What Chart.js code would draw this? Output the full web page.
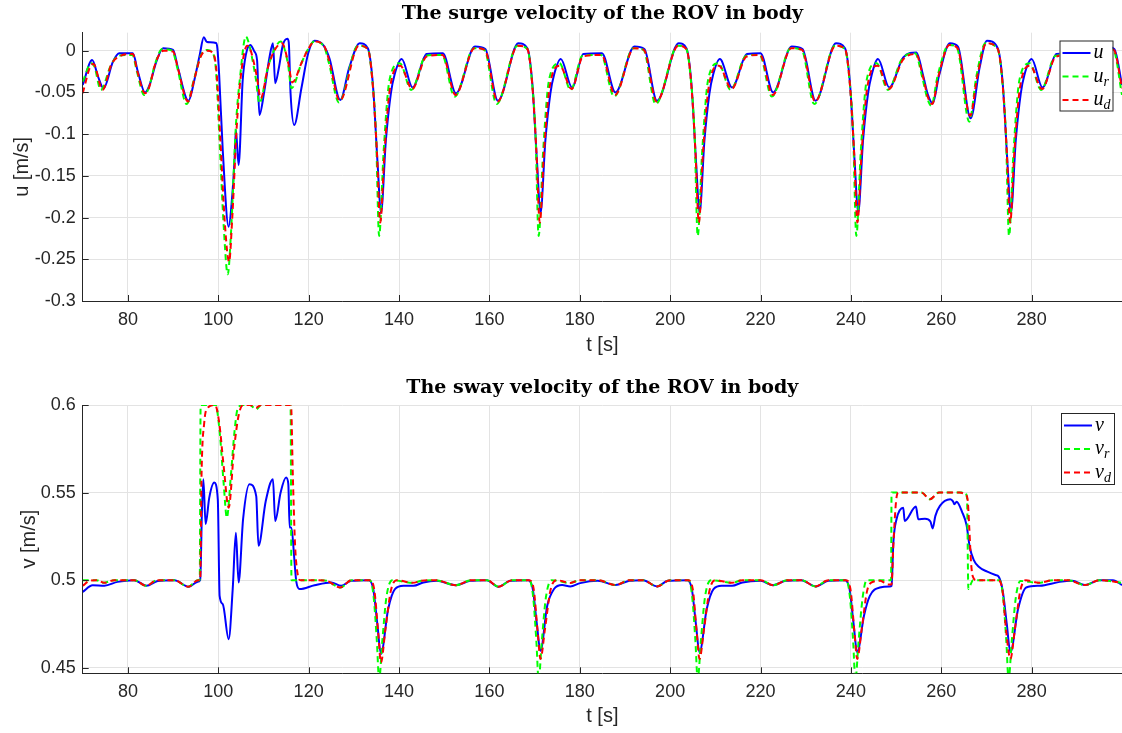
<!DOCTYPE html>
<html>
<head>
<meta charset="utf-8">
<script src="https://cdn.jsdelivr.net/npm/chart.js@4.4.1/dist/chart.umd.min.js"></script>
<style>
  html, body { margin: 0; padding: 0; background: #fff; }
  #wrap { position: relative; width: 1122px; height: 733px; }
  canvas { position: absolute; left: 0; }
</style>
</head>
<body>
<div id="wrap">
  <canvas id="surge" width="1122" height="366" style="top:0"></canvas>
  <canvas id="sway" width="1122" height="367" style="top:366px"></canvas>
</div>
<script>
// axis ticks
const tTicks = [80, 100, 120, 140, 160, 180, 200, 220, 240, 260, 280];
const uTicks = [-0.3, -0.25, -0.2, -0.15, -0.1, -0.05, 0];
const vTicks = [0.45, 0.5, 0.55, 0.6];

// surge: measured u
const tU = [70.0, 72.1, 73.4, 74.6, 76.7, 78.1, 81.1, 82.2, 83.8, 84.8, 86.3, 87.8, 90.0, 91.1, 93.4, 94.8, 95.9, 96.8, 97.5, 99.5,
  99.8, 100.2, 101.0, 102.3, 103.0, 103.6, 103.9, 104.5, 105.4, 106.1, 107.1, 108.0, 108.6, 109.1, 110.2, 111.3, 112.1, 112.6, 113.4, 114.3,
  115.3, 115.6, 116.0, 116.8, 118.4, 119.9, 121.3, 123.2, 124.6, 127.0, 129.0, 131.3, 133.1, 134.2, 135.3, 136.0, 137.1, 138.2, 139.0, 140.6,
  143.0, 146.1, 149.7, 152.6, 156.8, 159.1, 161.9, 166.4, 168.4, 169.5, 170.6, 171.3, 172.4, 173.5, 174.3, 175.8, 178.3, 180.8, 184.9, 187.9,
  192.1, 194.3, 197.1, 201.9, 203.6, 204.7, 205.8, 206.5, 207.6, 208.7, 209.5, 211.0, 213.7, 217.0, 220.0, 222.8, 226.9, 229.3, 232.2, 236.7,
  238.7, 239.8, 240.9, 241.6, 242.7, 243.8, 244.6, 246.0, 248.5, 251.6, 254.5, 256.0, 257.0, 258.1, 259.5, 261.9, 263.7, 266.5, 268.5, 270.1,
  272.5, 273.6, 274.7, 275.4, 276.5, 277.6, 278.4, 280.0, 282.4, 285.5, 289.5, 292.0, 296.2, 298.3, 300.0];
const uMeas = [-0.041, -0.011, -0.031, -0.045, -0.013, -0.003, -0.003, -0.025, -0.050, -0.041, -0.013, 0.003, 0.001, -0.021, -0.060, -0.033, -0.005, 0.016, 0.0104, 0.0092,
  0.003, -0.029, -0.120, -0.211, -0.180, -0.131, -0.095, -0.137, -0.036, -0.005, 0.007, -0.001, -0.012, -0.077, -0.048, -0.009, 0.009, -0.039, -0.021, 0.007,
  0.0144, 0.010, -0.051, -0.089, -0.045, -0.003, 0.012, 0.007, -0.009, -0.059, -0.020, 0.009, 0.003, -0.039, -0.139, -0.195, -0.107, -0.051, -0.029, -0.010,
  -0.044, -0.004, -0.003, -0.051, 0.005, 0.002, -0.060, 0.009, 0.003, -0.039, -0.139, -0.195, -0.107, -0.051, -0.029, -0.010, -0.044, -0.004, -0.003, -0.050,
  0.005, 0.002, -0.060, 0.009, 0.003, -0.039, -0.139, -0.195, -0.107, -0.051, -0.029, -0.010, -0.044, -0.004, -0.003, -0.050, 0.005, 0.002, -0.060, 0.009,
  0.003, -0.039, -0.139, -0.195, -0.107, -0.051, -0.029, -0.010, -0.044, -0.008, -0.002, -0.030, -0.052, -0.063, -0.030, 0.009, 0.005, -0.081, -0.020, 0.012,
  0.003, -0.039, -0.139, -0.195, -0.107, -0.051, -0.029, -0.010, -0.044, -0.004, -0.003, -0.050, 0.005, 0.002, -0.041];

// surge: reference u_r
const tUr = [70.0, 71.9, 72.6, 74.0, 76.2, 77.9, 81.0, 82.0, 83.6, 84.6, 86.0, 87.6, 89.8, 91.0, 93.0, 94.6, 96.2, 97.6, 98.7, 99.5,
  100.3, 101.2, 102.1, 102.8, 103.9, 104.8, 106.1, 106.6, 108.3, 109.1, 110.9, 112.3, 113.8, 115.4, 116.2, 118.4, 119.9, 121.2, 123.4, 124.5,
  126.7, 130.9, 133.1, 134.0, 134.9, 135.6, 136.6, 137.9, 140.2, 142.7, 146.0, 149.5, 152.3, 156.6, 158.9, 161.6, 166.2, 168.4, 169.3, 170.2,
  170.9, 171.9, 173.2, 175.5, 178.0, 180.6, 184.7, 187.6, 191.9, 194.1, 196.8, 201.7, 203.6, 204.5, 205.4, 206.1, 207.1, 208.4, 210.7, 213.4,
  216.8, 219.8, 222.5, 226.7, 229.1, 231.9, 236.5, 238.7, 239.6, 240.5, 241.2, 242.2, 243.5, 245.7, 248.2, 251.3, 254.2, 255.8, 256.8, 257.8,
  259.2, 261.7, 263.5, 266.2, 267.8, 269.8, 272.5, 273.4, 274.3, 275.0, 276.0, 277.3, 279.6, 282.1, 285.3, 289.3, 291.7, 296.0, 298.1, 300.0];
const uRef = [-0.037, -0.015, -0.019, -0.047, -0.018, -0.006, -0.005, -0.025, -0.053, -0.045, -0.016, 0.002, 0.000, -0.022, -0.064, -0.035, -0.005, 0.001, -0.002, -0.024,
  -0.110, -0.210, -0.268, -0.220, -0.090, -0.033, 0.017, 0.012, -0.033, -0.063, -0.022, 0.000, 0.011, -0.015, -0.045, -0.015, 0.002, 0.011, 0.005, -0.015,
  -0.062, 0.006, 0.002, -0.030, -0.099, -0.222, -0.120, -0.035, -0.015, -0.047, -0.006, -0.005, -0.055, 0.003, 0.001, -0.064, 0.006, 0.002, -0.030, -0.099,
  -0.222, -0.120, -0.035, -0.015, -0.047, -0.006, -0.005, -0.055, 0.003, 0.001, -0.064, 0.006, 0.002, -0.030, -0.099, -0.222, -0.120, -0.035, -0.015, -0.047,
  -0.006, -0.005, -0.055, 0.003, 0.001, -0.064, 0.006, 0.002, -0.030, -0.099, -0.222, -0.120, -0.035, -0.015, -0.047, -0.010, -0.003, -0.032, -0.055, -0.066,
  -0.030, 0.007, 0.003, -0.085, -0.030, 0.009, 0.002, -0.030, -0.099, -0.222, -0.120, -0.035, -0.015, -0.047, -0.006, -0.005, -0.055, 0.003, 0.001, -0.053];

// surge: desired u_d
const tUd = [70.0, 71.9, 72.4, 74.4, 76.3, 78.0, 81.1, 82.1, 83.8, 84.7, 86.1, 87.9, 90.0, 91.1, 93.3, 94.7, 96.2, 97.6, 98.7, 99.6,
  100.5, 101.5, 102.4, 103.1, 104.1, 105.0, 106.4, 107.0, 108.5, 109.4, 111.0, 112.4, 114.1, 115.5, 116.4, 118.4, 119.9, 121.3, 123.5, 124.6,
  126.9, 131.1, 133.1, 134.1, 135.1, 135.85, 136.8, 138.0, 140.3, 142.9, 146.1, 149.6, 152.5, 156.7, 159.0, 161.8, 166.3, 168.4, 169.4, 170.4,
  171.15, 172.1, 173.3, 175.6, 178.2, 180.7, 184.8, 187.8, 192.0, 194.2, 197.0, 201.8, 203.6, 204.6, 205.6, 206.35, 207.3, 208.5, 210.8, 213.6,
  216.9, 219.9, 222.7, 226.8, 229.2, 232.1, 236.6, 238.7, 239.7, 240.7, 241.45, 242.4, 243.6, 245.9, 248.4, 251.5, 254.4, 256.0, 257.0, 258.0,
  259.4, 261.8, 263.6, 266.4, 268.0, 270.0, 272.5, 273.5, 274.5, 275.25, 276.2, 277.4, 279.7, 282.3, 285.4, 289.4, 291.9, 296.1, 298.2, 300.0];
const uDes = [-0.051, -0.017, -0.016, -0.047, -0.017, -0.007, -0.004, -0.025, -0.051, -0.044, -0.015, 0.000, -0.001, -0.022, -0.061, -0.034, -0.006, 0.000, -0.002, -0.024,
  -0.110, -0.210, -0.253, -0.200, -0.090, -0.030, 0.006, 0.003, -0.030, -0.057, -0.020, 0.000, 0.009, -0.015, -0.038, -0.015, 0.002, 0.011, 0.005, -0.013,
  -0.060, 0.006, 0.002, -0.035, -0.120, -0.206, -0.120, -0.045, -0.018, -0.046, -0.007, -0.005, -0.053, 0.003, 0.001, -0.061, 0.006, 0.002, -0.035, -0.120,
  -0.206, -0.120, -0.045, -0.018, -0.046, -0.007, -0.005, -0.053, 0.003, 0.001, -0.061, 0.006, 0.002, -0.035, -0.120, -0.206, -0.120, -0.045, -0.018, -0.046,
  -0.007, -0.005, -0.053, 0.003, 0.001, -0.061, 0.006, 0.002, -0.035, -0.120, -0.206, -0.120, -0.045, -0.018, -0.046, -0.011, -0.004, -0.032, -0.055, -0.064,
  -0.030, 0.007, 0.003, -0.078, -0.030, 0.009, 0.002, -0.035, -0.120, -0.206, -0.120, -0.045, -0.018, -0.046, -0.007, -0.005, -0.053, 0.003, 0.001, -0.045];

// sway: measured v
const tV = [70.0, 72.2, 74.8, 77.7, 81.4, 84.1, 86.6, 90.3, 93.5, 95.4, 96.0, 96.4, 96.7, 97.2, 98.0, 99.1, 99.9, 100.3, 101.0, 102.3,
  103.2, 103.9, 104.5, 105.5, 106.9, 108.4, 108.9, 110.5, 112.1, 112.6, 113.8, 115.0, 115.5, 115.8, 116.1, 117.3, 118.0, 121.3, 125.0, 127.2,
  129.4, 133.3, 134.3, 135.2, 136.0, 137.6, 139.1, 141.0, 143.2, 145.4, 148.3, 152.6, 155.7, 159.4, 162.0, 164.6, 168.6, 169.6, 170.5, 171.3,
  172.8, 174.3, 176.1, 177.9, 180.1, 184.0, 187.9, 191.0, 194.0, 197.1, 199.5, 203.8, 204.8, 205.7, 206.5, 208.1, 209.6, 211.4, 213.7, 216.0,
  220.0, 222.8, 225.5, 229.0, 232.2, 235.0, 238.7, 239.7, 240.6, 241.4, 242.9, 244.2, 246.4, 248.6, 249.0, 249.4, 250.1, 251.6, 251.9, 254.4,
  254.9, 256.4, 257.6, 258.1, 258.7, 259.7, 262.0, 262.6, 262.9, 263.4, 264.6, 265.6, 266.3, 267.2, 268.3, 270.2, 272.0, 272.7, 273.6, 274.5,
  275.3, 277.0, 278.8, 281.8, 286.2, 289.0, 291.8, 295.0, 298.0, 300.0];
const vMeas = [0.4933, 0.4971, 0.4968, 0.499, 0.5, 0.4968, 0.4995, 0.5, 0.4962, 0.499, 0.5, 0.5405, 0.5576, 0.532, 0.547, 0.5557, 0.546, 0.491, 0.4863, 0.4663,
  0.495, 0.527, 0.4987, 0.535, 0.5548, 0.548, 0.5196, 0.545, 0.5576, 0.5338, 0.55, 0.5586, 0.555, 0.530, 0.530, 0.4987, 0.4949, 0.4971, 0.4987, 0.4968,
  0.4996, 0.5, 0.495, 0.475, 0.4578, 0.4835, 0.4949, 0.4968, 0.4968, 0.4987, 0.4996, 0.4971, 0.4996, 0.5, 0.4962, 0.4996, 0.5, 0.495, 0.475, 0.4597,
  0.4854, 0.4949, 0.4972, 0.4964, 0.4983, 0.4996, 0.4972, 0.4996, 0.5, 0.4964, 0.4996, 0.5, 0.495, 0.475, 0.4587, 0.4835, 0.4949, 0.4968, 0.4968, 0.4987,
  0.4996, 0.4971, 0.4996, 0.5, 0.4964, 0.4996, 0.5, 0.495, 0.475, 0.4587, 0.4797, 0.491, 0.4958, 0.4964, 0.4968, 0.5215, 0.5348, 0.5414, 0.5338, 0.542,
  0.5348, 0.535, 0.5335, 0.5295, 0.5367, 0.5424, 0.5462, 0.545, 0.5433, 0.5448, 0.539, 0.5314, 0.5189, 0.5114, 0.5076, 0.5048, 0.5029, 0.502, 0.494, 0.475,
  0.4587, 0.4835, 0.4958, 0.4968, 0.499, 0.4996, 0.4972, 0.5, 0.5, 0.4972];

// sway: reference v_r
const tVr = [70.0, 73.0, 74.6, 77.0, 81.4, 84.0, 86.5, 90.3, 93.3, 95.5, 95.9, 96.1, 99.4, 100.3, 101.2, 101.9, 102.8, 103.6, 104.3, 105.5,
  107.0, 108.4, 109.5, 116.0, 116.2, 122.0, 124.0, 127.0, 129.5, 133.6, 134.4, 135.1, 135.6, 136.3, 137.2, 138.5, 143.0, 145.0, 148.0, 152.6,
  156.0, 159.5, 162.0, 165.0, 168.9, 169.7, 170.4, 170.9, 171.6, 172.5, 173.8, 177.9, 180.0, 184.0, 187.9, 191.0, 194.0, 197.1, 200.0, 204.1,
  204.9, 205.6, 206.1, 206.8, 207.7, 209.0, 213.7, 216.0, 220.0, 222.8, 226.0, 229.0, 232.2, 235.0, 239.0, 239.8, 240.5, 241.0, 241.7, 242.6,
  243.5, 248.9, 249.0, 255.6, 257.5, 259.5, 265.2, 265.7, 266.0, 266.5, 267.0, 272.9, 273.7, 274.4, 274.9, 275.6, 276.5, 277.5, 281.5, 285.0,
  288.0, 291.8, 295.0, 300.0];
const vRef = [0.5, 0.5, 0.4985, 0.5, 0.5, 0.4968, 0.5, 0.5, 0.4962, 0.5, 0.5, 0.6, 0.6, 0.585, 0.555, 0.5357, 0.56, 0.585, 0.598, 0.6,
  0.6, 0.5975, 0.6, 0.6, 0.5, 0.5, 0.4996, 0.4958, 0.5, 0.5, 0.49, 0.465, 0.443, 0.465, 0.49, 0.5, 0.4985, 0.4996, 0.5, 0.4971,
  0.5, 0.5, 0.4962, 0.5, 0.5, 0.49, 0.465, 0.443, 0.465, 0.49, 0.5, 0.4984, 0.5, 0.5, 0.4972, 0.5, 0.5, 0.4964, 0.5, 0.5,
  0.49, 0.465, 0.443, 0.465, 0.49, 0.5, 0.4985, 0.5, 0.5, 0.4971, 0.5, 0.5, 0.4964, 0.5, 0.5, 0.49, 0.465, 0.443, 0.465, 0.49,
  0.5, 0.5, 0.55, 0.55, 0.5462, 0.55, 0.55, 0.547, 0.4949, 0.4975, 0.5, 0.5, 0.49, 0.465, 0.443, 0.465, 0.49, 0.4995, 0.4985, 0.5,
  0.5, 0.4972, 0.5, 0.4985];

// sway: desired v_d
const tVd = [70.0, 71.5, 73.0, 74.8, 77.0, 81.4, 84.0, 86.5, 90.3, 93.4, 95.5, 96.0, 96.3, 96.9, 97.7, 99.3, 100.2, 101.2, 102.3, 103.5,
  104.5, 105.5, 107.0, 108.4, 109.5, 116.1, 116.5, 117.0, 117.6, 118.2, 122.0, 124.0, 127.0, 129.5, 133.5, 134.5, 135.4, 136.0, 137.0, 138.2,
  139.5, 143.0, 145.0, 148.0, 152.6, 156.0, 159.5, 162.0, 165.0, 168.8, 169.8, 170.7, 171.3, 172.3, 173.5, 174.8, 177.9, 180.0, 184.0, 187.9,
  191.0, 194.0, 197.1, 200.0, 204.0, 205.0, 205.9, 206.5, 207.5, 208.7, 210.0, 213.7, 216.0, 220.0, 222.8, 226.0, 229.0, 232.2, 235.0, 238.9,
  239.9, 240.8, 241.4, 242.4, 243.6, 244.6, 246.5, 248.2, 249.0, 249.4, 250.0, 250.5, 255.6, 257.5, 259.5, 264.1, 265.3, 265.8, 266.2, 266.6,
  267.0, 267.8, 272.5, 273.5, 274.4, 275.3, 276.3, 277.5, 278.7, 281.5, 285.0, 288.0, 291.8, 295.0, 300.0];
const vDes = [0.4968, 0.4996, 0.5, 0.4985, 0.5, 0.5, 0.4968, 0.5, 0.5, 0.4962, 0.5, 0.5, 0.56, 0.59, 0.5985, 0.6, 0.59, 0.565, 0.5414, 0.575,
  0.594, 0.6, 0.6, 0.5985, 0.6, 0.6, 0.56, 0.52, 0.503, 0.5, 0.5, 0.4996, 0.4958, 0.5, 0.5, 0.495, 0.47, 0.453, 0.472, 0.494,
  0.5, 0.4985, 0.4996, 0.5, 0.4971, 0.5, 0.5, 0.4962, 0.5, 0.5, 0.495, 0.47, 0.455, 0.472, 0.494, 0.5, 0.4984, 0.5, 0.5, 0.4972,
  0.5, 0.5, 0.4964, 0.5, 0.5, 0.495, 0.47, 0.455, 0.472, 0.494, 0.5, 0.4985, 0.5, 0.5, 0.4971, 0.5, 0.5, 0.4964, 0.5, 0.5,
  0.495, 0.47, 0.455, 0.472, 0.494, 0.4987, 0.4996, 0.4975, 0.4975, 0.52, 0.545, 0.55, 0.55, 0.5462, 0.55, 0.55, 0.549, 0.5467, 0.53, 0.5098,
  0.502, 0.5, 0.5, 0.495, 0.47, 0.455, 0.472, 0.494, 0.5, 0.4985, 0.5, 0.5, 0.4972, 0.5, 0.4985];

const toPoints = (ts, vs) => ts.map((t, i) => ({ x: t, y: vs[i] }));

const AXIS_COLOR = "#262626";
const GRID_COLOR = "#e3e3e3";
const SANS = "'Liberation Sans', Arial, sans-serif";

// MATLAB style ticks pointing into the axes
const inwardTicks = {
    id: "inwardTicks",
    afterDraw(chart) {
        const { ctx, chartArea: area, scales } = chart;
        ctx.save();
        ctx.strokeStyle = AXIS_COLOR;
        ctx.lineWidth = 1;
        ctx.beginPath();
        scales.x.ticks.forEach((tick) => {
            const px = Math.round(scales.x.getPixelForValue(tick.value)) + 0.5;
            ctx.moveTo(px, area.bottom);
            ctx.lineTo(px, area.bottom - 6);
        });
        scales.y.ticks.forEach((tick) => {
            const py = Math.round(scales.y.getPixelForValue(tick.value)) + 0.5;
            ctx.moveTo(area.left, py);
            ctx.lineTo(area.left + 6, py);
        });
        ctx.stroke();
        ctx.restore();
    },
};

// legend box with subscripted symbols (u_r, u_d ...)
const texLegend = {
    id: "texLegend",
    afterDraw(chart, args, opts) {
        const { ctx } = chart;
        const { x, y, w, h, rowGap } = opts;
        ctx.save();
        ctx.fillStyle = "#fff";
        ctx.fillRect(x, y, w, h);
        ctx.strokeStyle = AXIS_COLOR;
        ctx.lineWidth = 1;
        ctx.strokeRect(x + 0.5, y + 0.5, w, h);

        chart.data.datasets.forEach((ds, i) => {
            const rowY = y + 12.5 + i * rowGap;
            ctx.beginPath();
            ctx.setLineDash(ds.borderDash || []);
            ctx.strokeStyle = ds.borderColor;
            ctx.lineWidth = 2;
            ctx.moveTo(x + 3, rowY);
            ctx.lineTo(x + 31, rowY);
            ctx.stroke();
            ctx.setLineDash([]);

            const [base, sub] = ds.label.split("_");
            ctx.fillStyle = "#000";
            ctx.textBaseline = "alphabetic";
            ctx.font = "italic 20px 'Liberation Serif', serif";
            ctx.fillText(base, x + 34, rowY + 5);
            if (sub) {
                const bw = ctx.measureText(base).width;
                ctx.font = "italic 14px 'Liberation Serif', serif";
                ctx.fillText(sub, x + 34 + bw, rowY + 9);
            }
        });
        ctx.restore();
    },
};

function makeChart(canvasId, cfg) {
    const ctx = document.getElementById(canvasId).getContext("2d");
    const lineBase = {
        pointRadius: 0,
        borderWidth: 2,
        cubicInterpolationMode: "monotone",
        fill: false,
    };
    return new Chart(ctx, {
        type: "line",
        data: {
            datasets: [
                { ...lineBase, label: cfg.labels[0], data: cfg.series[0], borderColor: "#0000ff", order: 3 },
                { ...lineBase, label: cfg.labels[1], data: cfg.series[1], borderColor: "#00ff00", borderDash: [6, 4], order: 2 },
                { ...lineBase, label: cfg.labels[2], data: cfg.series[2], borderColor: "#ff0000", borderDash: [6, 4], order: 1 },
            ],
        },
        options: {
            responsive: false,
            animation: false,
            devicePixelRatio: 1,
            layout: { padding: 0 },
            plugins: {
                legend: { display: false },
                tooltip: { enabled: false },
                title: {
                    display: true,
                    fullSize: false,
                    text: cfg.title,
                    color: "#000",
                    font: { family: "'DejaVu Serif', serif", size: 19, weight: "bold", lineHeight: 1.2 },
                    padding: cfg.titlePadding,
                },
                texLegend: cfg.legend,
            },
            scales: {
                x: {
                    type: "linear",
                    min: 70,
                    max: 300,
                    afterBuildTicks: (scale) => {
                        scale.ticks = tTicks.map((v) => ({ value: v }));
                    },
                    afterFit: (scale) => {
                        scale.height = cfg.xHeight;
                    },
                    ticks: {
                        color: AXIS_COLOR,
                        font: { family: SANS, size: 18 },
                        padding: 8,
                        maxRotation: 0,
                        callback: (v) => String(v),
                    },
                    grid: { color: GRID_COLOR, drawTicks: false },
                    border: { display: true, color: AXIS_COLOR, width: 1 },
                    title: {
                        display: true,
                        text: "t [s]",
                        color: AXIS_COLOR,
                        font: { family: SANS, size: 20 },
                        padding: { top: 0, bottom: cfg.xTitlePad },
                    },
                },
                y: {
                    type: "linear",
                    min: cfg.yMin,
                    max: cfg.yMax,
                    afterBuildTicks: (scale) => {
                        scale.ticks = cfg.yTicks.map((v) => ({ value: v }));
                    },
                    afterFit: (scale) => {
                        scale.width = 82.7;
                    },
                    ticks: {
                        color: AXIS_COLOR,
                        font: { family: SANS, size: 18 },
                        padding: 7,
                        callback: (v) => String(v),
                    },
                    grid: { color: GRID_COLOR, drawTicks: false },
                    border: { display: true, color: AXIS_COLOR, width: 1 },
                    title: {
                        display: true,
                        text: cfg.yTitle,
                        color: AXIS_COLOR,
                        font: { family: SANS, size: 20 },
                        padding: { top: cfg.yTitlePad, bottom: 0 },
                    },
                },
            },
        },
        plugins: [inwardTicks, texLegend],
    });
}

makeChart("surge", {
    title: "The surge velocity of the ROV in body",
    titlePadding: { top: 2.6, bottom: 7.3 },
    labels: ["u", "u_r", "u_d"],
    series: [toPoints(tU, uMeas), toPoints(tUr, uRef), toPoints(tUd, uDes)],
    yMin: -0.3,
    yMax: 0.0216,
    yTicks: uTicks,
    yTitle: "u [m/s]",
    yTitlePad: 10,
    xHeight: 65,
    xTitlePad: 9,
    legend: { x: 1059.5, y: 40.5, w: 53, h: 70, rowGap: 23.5 },
});

makeChart("sway", {
    title: "The sway velocity of the ROV in body",
    titlePadding: { top: 10.9, bottom: 5.3 },
    labels: ["v", "v_r", "v_d"],
    series: [toPoints(tV, vMeas), toPoints(tVr, vRef), toPoints(tVd, vDes)],
    yMin: 0.4468,
    yMax: 0.6,
    yTicks: vTicks,
    yTitle: "v [m/s]",
    yTitlePad: 17,
    xHeight: 59.7,
    xTitlePad: 4.5,
    legend: { x: 1061, y: 47, w: 53, h: 71, rowGap: 23.5 },
});
</script>
</body>
</html>
